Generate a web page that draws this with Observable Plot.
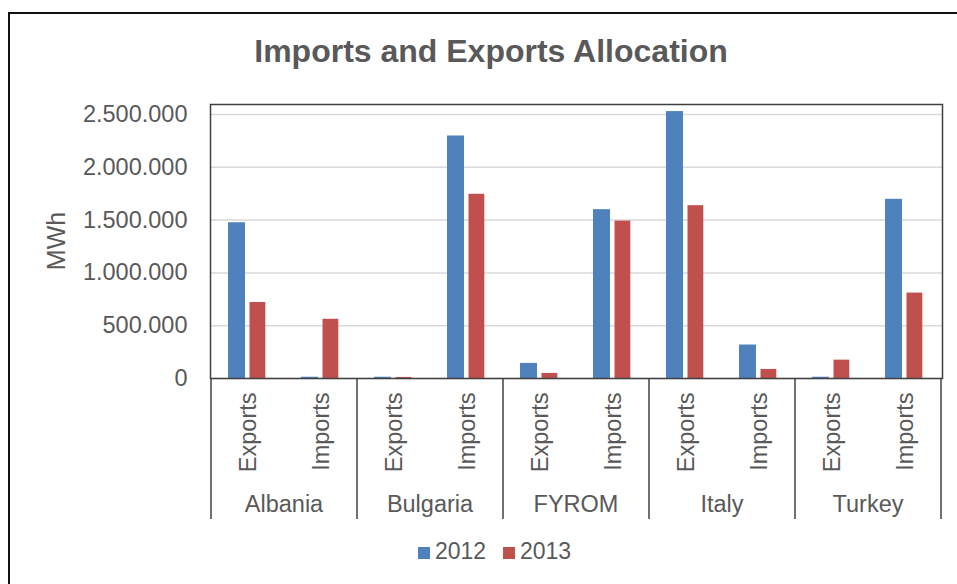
<!DOCTYPE html>
<html>
<head>
<meta charset="utf-8">
<script src="https://cdn.jsdelivr.net/npm/d3@7"></script>
<script src="https://cdn.jsdelivr.net/npm/@observablehq/plot@0.6"></script>
<style>
  html, body { margin: 0; padding: 0; background: #fff; }
  #wrap { position: relative; width: 957px; height: 584px; overflow: hidden; }
  #border { position: absolute; left: 8px; top: 12px; width: 1000px; height: 1000px;
            border-top: 2px solid #111; border-left: 2px solid #111; box-sizing: border-box; }
  #chart { position: absolute; left: 0; top: 0; }
</style>
</head>
<body>
<div id="wrap"><div id="chart"></div><div id="border"></div></div>
<script>
const title = "Imports and Exports Allocation";
const yLabel = "MWh";
const countries = ["Albania", "Bulgaria", "FYROM", "Italy", "Turkey"];
const flows = ["Exports", "Imports"];
const years = ["2012", "2013"];
const colors = ["#4F81BD", "#C0504D"];
// order: Albania Exp, Albania Imp, Bulgaria Exp, Bulgaria Imp, FYROM Exp, FYROM Imp, Italy Exp, Italy Imp, Turkey Exp, Turkey Imp
const values2012 = [1475000, 12000, 12000, 2297000, 143000, 1599000, 2528000, 317000, 12000, 1697000];
const values2013 = [720000, 561000, 10000, 1745000, 48000, 1491000, 1637000, 86000, 174000, 809000];
const yTicks = [0, 500000, 1000000, 1500000, 2000000, 2500000];

const keys = [];
countries.forEach(c => flows.forEach(f => keys.push(c + "|" + f)));
const rows = [];
[values2012, values2013].forEach((vals, yi) => {
  keys.forEach((k, i) => rows.push({key: k, country: k.split("|")[0], flow: k.split("|")[1], year: years[yi], value: vals[i]}));
});

const locale = d3.formatLocale({decimal: ",", thousands: ".", grouping: [3], currency: ["", ""]});
const fmt = locale.format(",d");
const FONT = "'Liberation Sans', Arial, sans-serif";
const GREY = "#595959";

const plot = Plot.plot({
  width: 957,
  height: 584,
  marginLeft: 210,
  marginRight: 15,
  marginTop: 104,
  marginBottom: 206,
  style: {fontFamily: FONT, fontSize: "23.5px", color: GREY, background: "transparent", overflow: "visible"},
  x: {domain: keys, padding: 0, tickSize: 0, tickPadding: 14, tickRotate: -90, tickFormat: k => k.split("|")[1], label: null},
  y: {domain: [0, 2595000], ticks: yTicks, tickFormat: fmt, tickSize: 0, tickPadding: 23, label: null},
  marks: [
    Plot.ruleY(yTicks, {stroke: "#d9d9d9", strokeWidth: 1.5}),
    Plot.barY(rows.filter(d => d.year === years[0]), {x: "key", y: "value", fill: colors[0], insetLeft: 17, insetRight: 39}),
    Plot.barY(rows.filter(d => d.year === years[1]), {x: "key", y: "value", fill: colors[1], insetLeft: 38.5, insetRight: 18.7}),
    Plot.frame({stroke: "#404040", strokeWidth: 1.5})
  ]
});
document.getElementById("chart").appendChild(plot);

const svg = d3.select(plot);
const xs = plot.scale("x");
const ys = plot.scale("y");
const yBottom = Math.max(...ys.range);
const bw = xs.bandwidth;
const g = svg.append("g").attr("font-family", FONT).attr("fill", GREY);

// country group separators and labels
const bounds = [];
countries.forEach((c, i) => {
  const x0 = xs.apply(c + "|" + flows[0]);
  const x1 = xs.apply(c + "|" + flows[1]) + bw;
  if (i === 0) bounds.push(x0);
  bounds.push(x1);
  g.append("text").attr("x", (x0 + x1) / 2).attr("y", yBottom + 128)
    .attr("text-anchor", "middle").attr("dominant-baseline", "middle").attr("font-size", 23.5).text(c);
});
bounds.forEach(x => {
  g.append("line").attr("x1", x).attr("x2", x).attr("y1", yBottom).attr("y2", yBottom + 141)
    .attr("stroke", "#404040").attr("stroke-width", 1.5);
});

// title
g.append("text").attr("x", 491).attr("y", 54).attr("text-anchor", "middle").attr("dominant-baseline", "middle")
  .attr("font-size", 32).attr("font-weight", "bold").text(title);

// y label
g.append("text").attr("transform", "translate(58,241) rotate(-90)").attr("text-anchor", "middle")
  .attr("dominant-baseline", "middle").attr("font-size", 25).text(yLabel);

// legend
const legendX = [418, 503];
years.forEach((yr, i) => {
  g.append("rect").attr("x", legendX[i]).attr("y", 547).attr("width", 12).attr("height", 12).attr("fill", colors[i]);
  g.append("text").attr("x", legendX[i] + 17).attr("y", 553).attr("text-anchor", "start").attr("dominant-baseline", "middle")
    .attr("font-size", 23).text(yr);
});
</script>
</body>
</html>
